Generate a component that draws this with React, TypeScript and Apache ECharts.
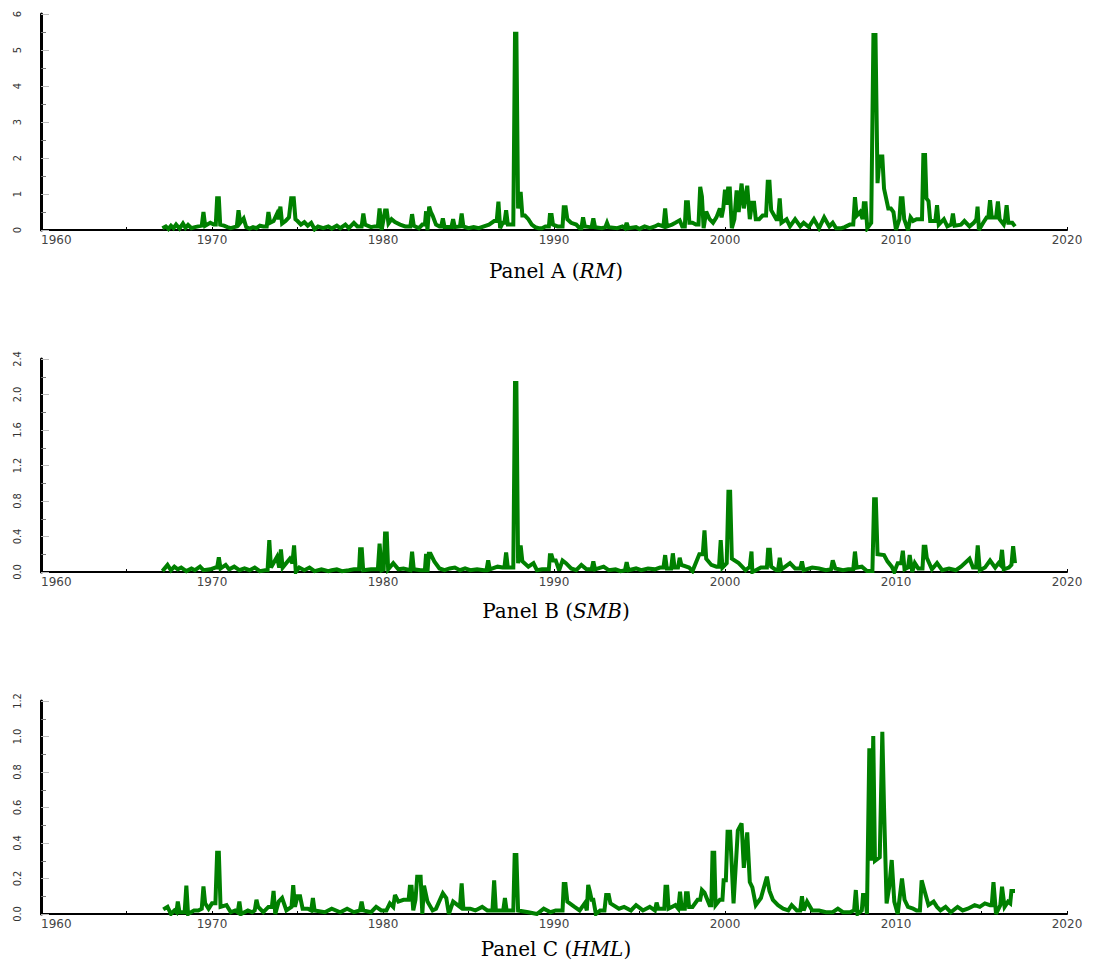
import React, { useEffect, useRef } from "react";
import * as echarts from "echarts";

// Panel titles
const panelNames = ["Panel A", "Panel B", "Panel C"];
const panelFactors = ["RM", "SMB", "HML"];

// x-axis (years)
const xMin = 1960;
const xMax = 2020;
const xStep = 10;

// y-axis settings per panel
const yMaxes = [6, 2.4, 1.2];
const yIntervals = [1, 0.4, 0.2];
const yDecimals = [0, 1, 1];

// Panel A (RM): [year, value]
const rmData: [number, number][] = [
  [1967.1, 0.05], [1967.3, 0.1], [1967.45, 0.03], [1967.6, 0.12], [1967.75, 0.05], [1967.9, 0.15],
  [1968.1, 0.04], [1968.3, 0.18], [1968.45, 0.06], [1968.6, 0.14], [1968.8, 0.05], [1969.0, 0.08],
  [1969.2, 0.1], [1969.4, 0.12], [1969.5, 0.5], [1969.6, 0.12], [1969.9, 0.2], [1970.1, 0.15],
  [1970.22, 0.15], [1970.3, 0.88], [1970.4, 0.88], [1970.48, 0.15], [1970.7, 0.12], [1970.9, 0.08],
  [1971.1, 0.05], [1971.3, 0.08], [1971.45, 0.1], [1971.55, 0.55], [1971.65, 0.2], [1971.85, 0.32],
  [1972.0, 0.08], [1972.2, 0.04], [1972.4, 0.08], [1972.6, 0.05], [1972.8, 0.12], [1973.0, 0.1],
  [1973.2, 0.1], [1973.3, 0.5], [1973.4, 0.2], [1973.6, 0.25], [1973.8, 0.45], [1973.9, 0.3],
  [1974.0, 0.65], [1974.1, 0.18], [1974.3, 0.25], [1974.5, 0.35], [1974.63, 0.88], [1974.78, 0.88],
  [1974.88, 0.3], [1975.0, 0.25], [1975.2, 0.15], [1975.4, 0.22], [1975.6, 0.12], [1975.8, 0.2],
  [1976.0, 0.02], [1976.2, 0.1], [1976.5, 0.05], [1976.8, 0.1], [1977.0, 0.04], [1977.3, 0.12],
  [1977.5, 0.05], [1977.8, 0.15], [1978.0, 0.05], [1978.3, 0.2], [1978.5, 0.1], [1978.75, 0.1],
  [1978.85, 0.46], [1978.95, 0.15], [1979.3, 0.08], [1979.5, 0.1], [1979.7, 0.1], [1979.8, 0.6],
  [1979.92, 0.0], [1980.12, 0.54], [1980.22, 0.54], [1980.32, 0.18], [1980.5, 0.3], [1980.7, 0.22],
  [1981.0, 0.15], [1981.3, 0.1], [1981.6, 0.1], [1981.7, 0.44], [1981.8, 0.12], [1982.1, 0.05],
  [1982.3, 0.15], [1982.45, 0.15], [1982.52, 0.52], [1982.6, 0.0], [1982.7, 0.65], [1982.8, 0.5],
  [1982.9, 0.4], [1983.1, 0.15], [1983.3, 0.1], [1983.4, 0.1], [1983.5, 0.32], [1983.6, 0.08],
  [1984.0, 0.08], [1984.1, 0.3], [1984.2, 0.08], [1984.5, 0.1], [1984.6, 0.46], [1984.7, 0.1],
  [1985.0, 0.05], [1985.3, 0.08], [1985.6, 0.05], [1985.9, 0.1], [1986.2, 0.15], [1986.5, 0.25],
  [1986.65, 0.25], [1986.75, 0.79], [1986.85, 0.05], [1987.0, 0.2], [1987.1, 0.2], [1987.2, 0.55],
  [1987.3, 0.15], [1987.62, 0.15], [1987.72, 5.45], [1987.8, 5.45], [1987.9, 0.6], [1988.05, 1.06],
  [1988.15, 0.4], [1988.3, 0.4], [1988.5, 0.3], [1988.7, 0.15], [1988.9, 0.08], [1989.1, 0.05],
  [1989.3, 0.05], [1989.5, 0.1], [1989.7, 0.1], [1989.76, 0.42], [1989.86, 0.42], [1989.94, 0.15],
  [1990.2, 0.1], [1990.5, 0.1], [1990.57, 0.63], [1990.68, 0.63], [1990.78, 0.3], [1991.0, 0.2],
  [1991.3, 0.15], [1991.5, 0.05], [1991.6, 0.05], [1991.7, 0.35], [1991.8, 0.1], [1992.1, 0.08],
  [1992.2, 0.08], [1992.3, 0.32], [1992.4, 0.08], [1992.8, 0.05], [1993.0, 0.08], [1993.1, 0.2],
  [1993.2, 0.08], [1993.7, 0.05], [1994.0, 0.1], [1994.15, 0.05], [1994.25, 0.2], [1994.35, 0.05],
  [1994.8, 0.08], [1995.0, 0.03], [1995.3, 0.1], [1995.6, 0.05], [1995.9, 0.1], [1996.1, 0.15],
  [1996.4, 0.1], [1996.5, 0.6], [1996.6, 0.1], [1996.9, 0.15], [1997.1, 0.2], [1997.35, 0.27],
  [1997.5, 0.1], [1997.65, 0.1], [1997.72, 0.77], [1997.83, 0.77], [1997.92, 0.2], [1998.1, 0.2],
  [1998.3, 0.15], [1998.45, 0.15], [1998.55, 1.2], [1998.65, 0.93], [1998.75, 0.05], [1998.9, 0.51],
  [1999.1, 0.3], [1999.3, 0.2], [1999.5, 0.35], [1999.7, 0.6], [1999.8, 0.35], [1999.9, 0.6],
  [2000.0, 1.12], [2000.1, 0.7], [2000.18, 1.15], [2000.28, 1.15], [2000.4, 0.05], [2000.55, 0.3],
  [2000.68, 1.1], [2000.8, 0.5], [2000.97, 1.29], [2001.1, 0.6], [2001.3, 1.23], [2001.45, 0.3],
  [2001.58, 0.76], [2001.7, 0.76], [2001.8, 0.3], [2002.0, 0.3], [2002.2, 0.4], [2002.4, 0.4],
  [2002.5, 1.34], [2002.6, 1.34], [2002.7, 0.55], [2003.0, 0.3], [2003.1, 0.3], [2003.2, 0.88],
  [2003.3, 0.2], [2003.6, 0.3], [2003.8, 0.1], [2004.1, 0.3], [2004.4, 0.1], [2004.6, 0.2],
  [2004.9, 0.08], [2005.2, 0.3], [2005.5, 0.05], [2005.8, 0.35], [2006.1, 0.1], [2006.3, 0.2],
  [2006.5, 0.05], [2006.8, 0.05], [2007.0, 0.08], [2007.3, 0.15], [2007.5, 0.15], [2007.6, 0.91],
  [2007.7, 0.4], [2007.9, 0.5], [2008.05, 0.3], [2008.12, 0.74], [2008.22, 0.74], [2008.32, 0.05],
  [2008.55, 0.2], [2008.68, 5.42], [2008.8, 5.42], [2008.92, 1.3], [2009.05, 2.04], [2009.2, 2.04],
  [2009.3, 1.15], [2009.55, 0.6], [2009.7, 0.6], [2009.85, 0.5], [2010.0, 0.0], [2010.2, 0.3],
  [2010.28, 0.88], [2010.38, 0.88], [2010.48, 0.3], [2010.7, 0.0], [2010.85, 0.35], [2011.0, 0.25],
  [2011.2, 0.3], [2011.52, 0.3], [2011.6, 2.08], [2011.7, 2.08], [2011.78, 0.88], [2011.9, 0.8],
  [2012.0, 0.25], [2012.3, 0.25], [2012.4, 0.69], [2012.5, 0.15], [2012.8, 0.3], [2013.0, 0.1],
  [2013.23, 0.15], [2013.33, 0.46], [2013.43, 0.12], [2013.8, 0.15], [2014.0, 0.25], [2014.3, 0.1],
  [2014.55, 0.2], [2014.7, 0.3], [2014.77, 0.65], [2014.85, 0.0], [2015.1, 0.2], [2015.3, 0.35],
  [2015.4, 0.35], [2015.5, 0.83], [2015.6, 0.35], [2015.85, 0.35], [2015.96, 0.79], [2016.06, 0.3],
  [2016.3, 0.15], [2016.38, 0.3], [2016.47, 0.69], [2016.57, 0.2], [2016.8, 0.2], [2016.96, 0.1],
];

// Panel B (SMB): [year, value]
const smbData: [number, number][] = [
  [1967.1, 0.01], [1967.4, 0.08], [1967.6, 0.02], [1967.8, 0.06], [1968.0, 0.03], [1968.2, 0.05],
  [1968.5, 0.01], [1968.8, 0.04], [1969.0, 0.02], [1969.3, 0.06], [1969.5, 0.02], [1969.9, 0.03],
  [1970.2, 0.05], [1970.3, 0.05], [1970.4, 0.165], [1970.5, 0.04], [1970.8, 0.08], [1971.0, 0.03],
  [1971.3, 0.06], [1971.6, 0.02], [1971.9, 0.04], [1972.2, 0.02], [1972.5, 0.05], [1972.8, 0.01],
  [1973.1, 0.02], [1973.25, 0.02], [1973.35, 0.36], [1973.45, 0.05], [1973.8, 0.17], [1973.93, 0.05],
  [1974.03, 0.255], [1974.13, 0.05], [1974.55, 0.15], [1974.7, 0.1], [1974.8, 0.3], [1974.9, 0.0],
  [1975.1, 0.05], [1975.4, 0.02], [1975.7, 0.05], [1976.0, 0.01], [1976.4, 0.03], [1976.8, 0.01],
  [1977.0, 0.02], [1977.3, 0.03], [1977.6, 0.01], [1978.0, 0.02], [1978.3, 0.03], [1978.6, 0.03],
  [1978.66, 0.255], [1978.76, 0.255], [1978.84, 0.02], [1979.3, 0.03], [1979.7, 0.03], [1979.8, 0.32],
  [1979.92, 0.02], [1980.04, 0.03], [1980.12, 0.435], [1980.22, 0.435], [1980.3, 0.03], [1980.6, 0.1],
  [1980.9, 0.03], [1981.2, 0.04], [1981.6, 0.02], [1981.7, 0.23], [1981.8, 0.03], [1982.2, 0.02],
  [1982.45, 0.02], [1982.52, 0.205], [1982.6, 0.0], [1982.68, 0.205], [1982.78, 0.205], [1983.0, 0.12],
  [1983.3, 0.04], [1983.6, 0.02], [1983.9, 0.04], [1984.2, 0.05], [1984.5, 0.02], [1984.8, 0.04],
  [1985.1, 0.02], [1985.5, 0.03], [1985.9, 0.02], [1986.05, 0.02], [1986.15, 0.13], [1986.25, 0.03],
  [1986.7, 0.06], [1987.0, 0.05], [1987.1, 0.05], [1987.2, 0.22], [1987.3, 0.05], [1987.62, 0.05],
  [1987.72, 2.13], [1987.8, 2.13], [1987.9, 0.1], [1988.05, 0.3], [1988.15, 0.12], [1988.5, 0.06],
  [1988.8, 0.1], [1989.0, 0.02], [1989.3, 0.03], [1989.7, 0.03], [1989.76, 0.19], [1989.86, 0.19],
  [1989.95, 0.13], [1990.1, 0.13], [1990.3, 0.02], [1990.5, 0.13], [1990.7, 0.1], [1991.0, 0.04],
  [1991.3, 0.02], [1991.6, 0.08], [1991.9, 0.03], [1992.2, 0.03], [1992.3, 0.12], [1992.4, 0.03],
  [1992.9, 0.06], [1993.2, 0.02], [1993.6, 0.03], [1993.9, 0.01], [1994.15, 0.02], [1994.25, 0.11],
  [1994.35, 0.02], [1994.8, 0.04], [1995.1, 0.02], [1995.5, 0.04], [1995.9, 0.03], [1996.2, 0.05],
  [1996.4, 0.05], [1996.5, 0.19], [1996.6, 0.04], [1996.85, 0.04], [1996.95, 0.21], [1997.05, 0.05],
  [1997.25, 0.05], [1997.35, 0.16], [1997.45, 0.08], [1997.9, 0.05], [1998.1, 0.01], [1998.5, 0.2],
  [1998.7, 0.2], [1998.8, 0.47], [1998.9, 0.15], [1999.2, 0.08], [1999.5, 0.06], [1999.65, 0.06],
  [1999.75, 0.36], [1999.85, 0.05], [2000.1, 0.1], [2000.2, 0.905], [2000.3, 0.905], [2000.4, 0.15],
  [2000.8, 0.1], [2001.0, 0.06], [2001.2, 0.02], [2001.45, 0.06], [2001.55, 0.23], [2001.6, 0.0],
  [2001.8, 0.02], [2002.1, 0.05], [2002.45, 0.05], [2002.52, 0.25], [2002.62, 0.25], [2002.7, 0.06],
  [2003.0, 0.02], [2003.1, 0.02], [2003.2, 0.16], [2003.3, 0.03], [2003.8, 0.1], [2004.1, 0.04],
  [2004.4, 0.04], [2004.5, 0.12], [2004.6, 0.02], [2005.1, 0.05], [2005.5, 0.04], [2005.9, 0.02],
  [2006.2, 0.03], [2006.3, 0.13], [2006.45, 0.04], [2006.9, 0.02], [2007.2, 0.03], [2007.5, 0.03],
  [2007.6, 0.23], [2007.7, 0.05], [2008.0, 0.06], [2008.3, 0.01], [2008.62, 0.01], [2008.72, 0.82],
  [2008.82, 0.82], [2008.92, 0.2], [2009.3, 0.19], [2009.5, 0.12], [2009.75, 0.06], [2009.9, 0.0],
  [2010.1, 0.1], [2010.3, 0.1], [2010.4, 0.24], [2010.5, 0.03], [2010.7, 0.05], [2010.8, 0.19],
  [2010.95, 0.0], [2011.1, 0.1], [2011.3, 0.04], [2011.55, 0.04], [2011.62, 0.285], [2011.72, 0.285],
  [2011.8, 0.16], [2012.1, 0.03], [2012.4, 0.1], [2012.7, 0.02], [2013.1, 0.04], [2013.5, 0.02],
  [2013.8, 0.06], [2014.3, 0.15], [2014.5, 0.05], [2014.68, 0.05], [2014.78, 0.3], [2014.9, 0.02],
  [2015.2, 0.05], [2015.5, 0.13], [2015.8, 0.05], [2016.0, 0.1], [2016.1, 0.08], [2016.2, 0.25],
  [2016.3, 0.03], [2016.6, 0.05], [2016.75, 0.08], [2016.85, 0.29], [2016.96, 0.1],
];

// Panel C (HML): [year, value]
const hmlData: [number, number][] = [
  [1967.15, 0.026], [1967.4, 0.04], [1967.6, 0.0], [1967.8, 0.02], [1967.92, 0.01], [1968.0, 0.07],
  [1968.1, 0.01], [1968.4, 0.01], [1968.5, 0.16], [1968.6, 0.0], [1968.95, 0.02], [1969.2, 0.02],
  [1969.4, 0.03], [1969.5, 0.155], [1969.6, 0.06], [1969.8, 0.03], [1970.0, 0.06], [1970.2, 0.06],
  [1970.3, 0.345], [1970.4, 0.345], [1970.5, 0.04], [1970.85, 0.05], [1971.1, 0.01], [1971.35, 0.02],
  [1971.5, 0.01], [1971.6, 0.07], [1971.7, 0.0], [1972.1, 0.02], [1972.35, 0.01], [1972.5, 0.02],
  [1972.6, 0.08], [1972.7, 0.04], [1973.0, 0.01], [1973.3, 0.04], [1973.5, 0.04], [1973.6, 0.13],
  [1973.7, 0.0], [1973.9, 0.07], [1974.1, 0.09], [1974.35, 0.02], [1974.65, 0.04], [1974.75, 0.163],
  [1974.85, 0.04], [1975.0, 0.1], [1975.15, 0.1], [1975.3, 0.03], [1975.6, 0.03], [1975.8, 0.02],
  [1975.9, 0.09], [1976.0, 0.02], [1976.6, 0.01], [1977.0, 0.03], [1977.5, 0.01], [1977.9, 0.03],
  [1978.3, 0.01], [1978.65, 0.02], [1978.75, 0.07], [1978.85, 0.02], [1979.3, 0.01], [1979.6, 0.04],
  [1979.9, 0.02], [1980.2, 0.02], [1980.4, 0.06], [1980.6, 0.04], [1980.7, 0.107], [1980.9, 0.07],
  [1981.2, 0.08], [1981.5, 0.08], [1981.57, 0.154], [1981.67, 0.154], [1981.77, 0.02], [1981.9, 0.08],
  [1982.0, 0.21], [1982.2, 0.21], [1982.3, 0.0], [1982.4, 0.16], [1982.6, 0.07], [1982.9, 0.02],
  [1983.1, 0.03], [1983.5, 0.117], [1983.7, 0.09], [1983.85, 0.0], [1984.1, 0.07], [1984.5, 0.04],
  [1984.6, 0.173], [1984.7, 0.03], [1985.1, 0.03], [1985.4, 0.02], [1985.8, 0.04], [1986.1, 0.02],
  [1986.4, 0.02], [1986.5, 0.19], [1986.6, 0.02], [1987.03, 0.02], [1987.13, 0.09], [1987.23, 0.02],
  [1987.62, 0.02], [1987.7, 0.332], [1987.8, 0.332], [1987.9, 0.02], [1988.5, 0.01], [1989.0, 0.0],
  [1989.4, 0.03], [1989.8, 0.01], [1990.1, 0.02], [1990.5, 0.02], [1990.57, 0.169], [1990.67, 0.169],
  [1990.78, 0.07], [1991.2, 0.04], [1991.5, 0.02], [1991.8, 0.06], [1991.92, 0.02], [1992.0, 0.164],
  [1992.1, 0.126], [1992.2, 0.08], [1992.3, 0.08], [1992.45, 0.0], [1992.7, 0.02], [1992.95, 0.02],
  [1993.05, 0.107], [1993.2, 0.107], [1993.3, 0.06], [1993.8, 0.03], [1994.1, 0.04], [1994.5, 0.02],
  [1994.8, 0.05], [1995.2, 0.02], [1995.6, 0.04], [1995.9, 0.02], [1996.0, 0.064], [1996.1, 0.03],
  [1996.45, 0.03], [1996.52, 0.154], [1996.62, 0.154], [1996.7, 0.03], [1997.1, 0.05], [1997.27, 0.03],
  [1997.37, 0.126], [1997.47, 0.03], [1997.65, 0.03], [1997.72, 0.117], [1997.82, 0.117], [1997.9, 0.04],
  [1998.1, 0.04], [1998.4, 0.08], [1998.55, 0.08], [1998.65, 0.135], [1998.8, 0.12], [1999.1, 0.05],
  [1999.2, 0.05], [1999.27, 0.345], [1999.37, 0.345], [1999.45, 0.05], [1999.7, 0.08], [1999.85, 0.08],
  [1999.92, 0.19], [2000.05, 0.19], [2000.15, 0.464], [2000.3, 0.464], [2000.5, 0.06], [2000.75, 0.47],
  [2000.97, 0.51], [2001.1, 0.26], [2001.3, 0.46], [2001.45, 0.18], [2001.6, 0.15], [2001.8, 0.05],
  [2002.1, 0.09], [2002.45, 0.21], [2002.6, 0.13], [2002.8, 0.08], [2003.1, 0.05], [2003.4, 0.03],
  [2003.7, 0.02], [2003.9, 0.05], [2004.2, 0.02], [2004.4, 0.02], [2004.5, 0.1], [2004.6, 0.02],
  [2004.8, 0.07], [2005.1, 0.02], [2005.5, 0.02], [2005.9, 0.01], [2006.3, 0.01], [2006.6, 0.03],
  [2006.9, 0.01], [2007.3, 0.01], [2007.55, 0.02], [2007.65, 0.135], [2007.75, 0.0], [2008.0, 0.02],
  [2008.07, 0.107], [2008.2, 0.107], [2008.3, 0.0], [2008.44, 0.933], [2008.55, 0.3], [2008.67, 1.003],
  [2008.77, 0.3], [2009.05, 0.32], [2009.2, 1.027], [2009.3, 0.6], [2009.45, 0.06], [2009.6, 0.15],
  [2009.75, 0.304], [2009.9, 0.07], [2010.1, 0.0], [2010.35, 0.2], [2010.5, 0.08], [2010.7, 0.04],
  [2011.0, 0.03], [2011.2, 0.02], [2011.4, 0.02], [2011.5, 0.19], [2011.7, 0.12], [2011.9, 0.05],
  [2012.2, 0.07], [2012.4, 0.04], [2012.6, 0.02], [2012.9, 0.04], [2013.2, 0.01], [2013.6, 0.04],
  [2013.9, 0.02], [2014.2, 0.03], [2014.6, 0.05], [2014.9, 0.04], [2015.2, 0.06], [2015.5, 0.05],
  [2015.6, 0.05], [2015.7, 0.18], [2015.85, 0.0], [2016.1, 0.05], [2016.2, 0.154], [2016.35, 0.04],
  [2016.55, 0.07], [2016.68, 0.06], [2016.75, 0.13], [2016.96, 0.13],
];

const seriesData = [rmData, smbData, hmlData];

const gridTops = [14, 359, 701];
const gridHeight = [216, 213, 213];
const titleTops = [256, 596, 934];

export default function App() {
  const ref = useRef<HTMLDivElement>(null);
  useEffect(() => {
    if (!ref.current) return;
    const chart = echarts.init(ref.current, null, { renderer: "svg" });
    const grids = gridTops.map((t, i) => ({
      left: 41,
      width: 1026,
      top: t,
      height: gridHeight[i],
    }));
    const xAxes = gridTops.map((_, i) => ({
      type: "value",
      gridIndex: i,
      min: xMin,
      max: xMax,
      interval: xStep,
      axisLine: { show: true, onZero: false, lineStyle: { color: "#000", width: 2 } },
      axisTick: { show: true, inside: true, length: 3, lineStyle: { color: "#000", width: 1 } },
      minorTick: { show: true, splitNumber: 2, length: 3, lineStyle: { color: "#000", width: 1 } },
      splitLine: { show: false },
      axisLabel: {
        show: true,
        margin: 4,
        color: "#444",
        fontSize: 12,
        fontFamily: "DejaVu Sans",
        alignMinLabel: "left",
        formatter: (v: number) => String(v),
      },
    }));
    const yAxes = gridTops.map((_, i) => ({
      type: "value",
      gridIndex: i,
      min: 0,
      max: yMaxes[i],
      interval: yIntervals[i],
      axisLine: { show: true, lineStyle: { color: "#000", width: 3 } },
      axisTick: { show: true, inside: true, length: 8, lineStyle: { color: "#bbb", width: 1 } },
      minorTick: { show: true, splitNumber: 2, length: 5, lineStyle: { color: "#777", width: 1 } },
      splitLine: { show: false },
      axisLabel: {
        show: true,
        rotate: 90,
        margin: 18,
        color: "#333",
        fontSize: 11,
        fontFamily: "Liberation Sans Narrow, DejaVu Sans Condensed, sans-serif",
        formatter: (v: number) => v.toFixed(yDecimals[i]),
      },
    }));
    const series = seriesData.map((d, i) => ({
      type: "line",
      xAxisIndex: i,
      yAxisIndex: i,
      data: d,
      showSymbol: false,
      symbol: "none",
      lineStyle: { color: "#008000", width: 4, join: "miter", miterLimit: 3 },
      z: 1,
    }));
    const titles = panelNames.map((n, i) => ({
      text: `${n} ({i|${panelFactors[i]}})`,
      left: 551,
      top: titleTops[i],
      textAlign: "center",
      textStyle: {
        fontFamily: "DejaVu Serif",
        fontSize: 20,
        fontWeight: "normal",
        color: "#000",
        rich: {
          i: { fontFamily: "DejaVu Serif", fontStyle: "italic", fontSize: 20, color: "#000" },
        },
      },
    }));
    chart.setOption({
      animation: false,
      backgroundColor: "#fff",
      title: titles,
      grid: grids,
      xAxis: xAxes,
      yAxis: yAxes,
      series,
    } as any);
    return () => chart.dispose();
  }, []);
  return (
    <div
      ref={ref}
      style={{ position: "absolute", left: 0, top: 0, width: 1102, height: 963 }}
    />
  );
}
